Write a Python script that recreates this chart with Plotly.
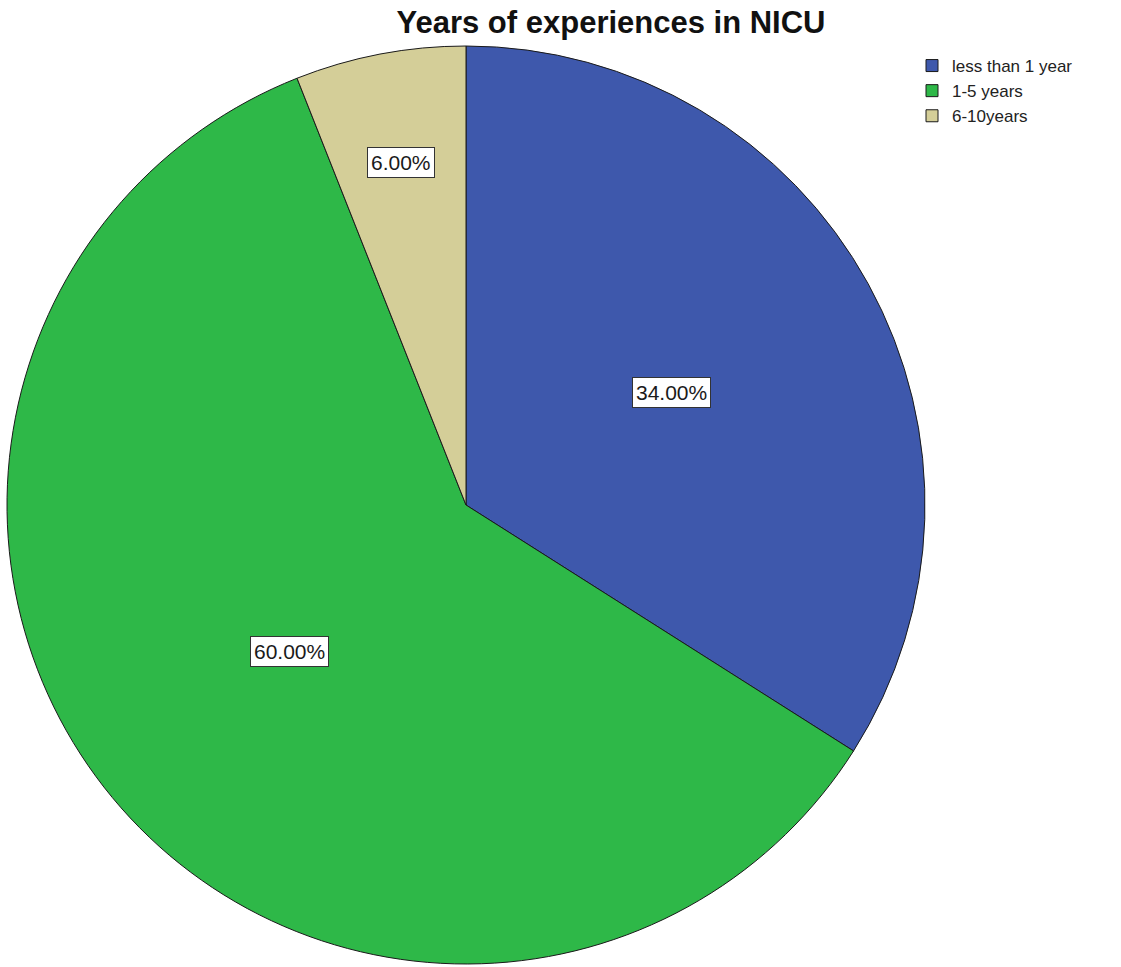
import math
import plotly.graph_objects as go

categories = ["less than 1 year", "1-5 years", "6-10years"]
percentages = [34.0, 60.0, 6.0]
colors = ["#3E58AC", "#2EB848", "#D4CE98"]
label_radius = [0.51, 0.50, 0.76]

W, H = 1121, 967
cx, cy, R = 466, 505, 459  # pie centre and radius in pixels

fig = go.Figure(go.Pie(
    labels=categories,
    values=percentages,
    marker=dict(colors=colors, line=dict(color="#1a1a1a", width=1)),
    sort=False,
    direction="clockwise",
    rotation=0,
    textinfo="none",
    hoverinfo="label+percent",
    domain=dict(x=[(cx - R) / W, (cx + R) / W], y=[(H - cy - R) / H, (H - cy + R) / H]),
))

# Boxed percentage labels placed at each slice's mid-angle
total = sum(percentages)
cum = 0.0
for v, f in zip(percentages, label_radius):
    mid = (cum + v / 2) / total * 2 * math.pi
    cum += v
    px = cx + f * R * math.sin(mid)
    py = cy - f * R * math.cos(mid)
    fig.add_annotation(
        x=px / W, y=1 - py / H, xref="paper", yref="paper",
        xanchor="center", yanchor="middle",
        text=f"{v:.2f}%", showarrow=False,
        font=dict(family="Liberation Sans, Arial", size=21, color="#1a1a1a"),
        bgcolor="white", bordercolor="#333333", borderwidth=1, borderpad=3,
    )

fig.update_layout(
    width=W, height=H,
    margin=dict(l=0, r=0, t=0, b=0),
    paper_bgcolor="white", plot_bgcolor="white",
    title=dict(
        text="<b>Years of experiences in NICU</b>",
        x=611 / W, xanchor="center", y=1 - 22 / H, yanchor="middle",
        font=dict(family="Liberation Sans, Arial", size=31, color="#111111"),
    ),
    legend=dict(
        x=912 / W, y=1 - 48 / H, xanchor="left", yanchor="top",
        font=dict(family="Liberation Sans, Arial", size=17, color="#222222"),
        itemwidth=30, tracegroupgap=0, bgcolor="rgba(0,0,0,0)",
    ),
    showlegend=True,
)

fig.write_html("out.html")
